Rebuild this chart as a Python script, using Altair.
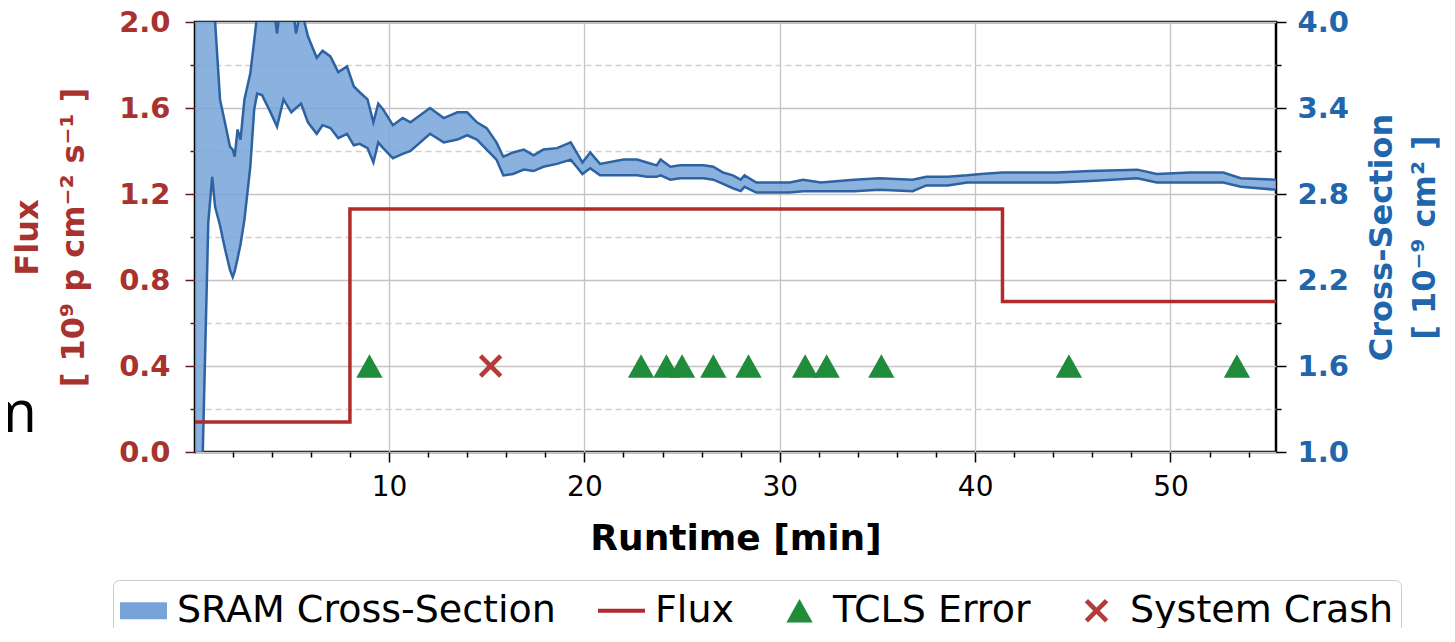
import altair as alt
import pandas as pd

# ---------------- data ----------------
band_t = [0.07, 0.30, 0.45, 0.75, 0.95, 1.10, 1.35, 1.60, 1.86, 2.00, 2.10, 2.25, 2.40, 2.60,
          2.90, 3.10, 3.25, 3.50, 3.90, 4.27, 4.60, 5.00, 5.24, 5.50, 5.85, 6.30, 6.60, 7.00,
          7.40, 7.85, 8.20, 8.50, 8.90, 9.20, 9.45, 9.70, 10.2, 10.7, 11.1, 12.1, 12.8, 13.5,
          14.0, 14.5, 15.0, 15.5, 15.85, 16.35, 16.9, 17.4, 17.9, 18.6, 19.3, 19.6, 19.9, 20.3,
          20.8, 22.0, 22.7, 23.2, 23.7, 23.9, 24.4, 24.9, 26.1, 26.6, 27.1, 27.6, 28.0, 28.2,
          28.8, 29.5, 30.5, 31.2, 32.1, 33.8, 35.1, 36.8, 37.5, 38.6, 39.6, 40.3, 41.4, 44.2,
          45.9, 48.3, 49.3, 51.0, 52.7, 53.6, 55.4]
band_lo = [0.80, 0.80, 0.90, 2.60, 2.92, 2.71, 2.58, 2.42, 2.27, 2.22, 2.26, 2.35, 2.45, 2.62,
           2.99, 3.39, 3.50, 3.49, 3.38, 3.27, 3.46, 3.37, 3.40, 3.43, 3.30, 3.22, 3.28, 3.26,
           3.19, 3.22, 3.14, 3.15, 3.12, 3.02, 3.16, 3.12, 3.05, 3.08, 3.10, 3.22, 3.16, 3.18,
           3.21, 3.18, 3.11, 3.04, 2.93, 2.94, 2.97, 2.96, 2.99, 3.01, 3.04, 2.99, 2.94, 2.98,
           2.93, 2.93, 2.93, 2.92, 2.92, 2.93, 2.90, 2.91, 2.91, 2.90, 2.87, 2.84, 2.82, 2.85,
           2.81, 2.81, 2.81, 2.82, 2.82, 2.82, 2.83, 2.82, 2.86, 2.86, 2.88, 2.88, 2.88, 2.88,
           2.89, 2.91, 2.88, 2.88, 2.88, 2.85, 2.83]
band_hi = [4.30, 4.30, 4.30, 4.30, 4.30, 4.00, 3.46, 3.30, 3.13, 3.11, 3.06, 3.25, 3.18, 3.46,
           3.64, 3.87, 4.05, 4.30, 4.30, 3.92, 4.30, 4.20, 3.92, 4.10, 3.90, 3.75, 3.80, 3.76,
           3.65, 3.69, 3.55, 3.51, 3.46, 3.30, 3.43, 3.39, 3.28, 3.33, 3.30, 3.40, 3.33, 3.37,
           3.37, 3.30, 3.26, 3.16, 3.06, 3.09, 3.11, 3.07, 3.11, 3.12, 3.16, 3.09, 3.02, 3.09,
           3.01, 3.04, 3.04, 3.02, 3.00, 3.04, 2.99, 3.00, 3.00, 2.99, 2.95, 2.93, 2.90, 2.93,
           2.88, 2.88, 2.88, 2.90, 2.88, 2.90, 2.91, 2.90, 2.92, 2.92, 2.93, 2.94, 2.95, 2.95,
           2.96, 2.97, 2.94, 2.95, 2.95, 2.91, 2.90]

flux_t = [0.07, 8.0, 41.4, 55.4]
flux_v = [0.14, 1.13, 0.70, 0.70]

tcls_t = [9.0, 22.9, 24.2, 25.0, 26.6, 28.4, 31.3, 32.4, 35.2, 44.8, 53.4]
crash_t = [15.2]
event_level = 0.4

series_names = ["SRAM Cross-Section", "Flux", "TCLS Error", "System Crash"]
series_colors = ["#77a3d8", "#b22b2b", "#1f8b3b", "#b73a3a"]

x_ticks = [2, 4, 6, 8, 10, 12, 14, 16, 18, 20, 22, 24, 26, 28, 30, 32, 34, 36, 38, 40,
           42, 44, 46, 48, 50, 52, 54]
flux_ticks = [0.0, 0.1, 0.2, 0.3, 0.4, 0.5, 0.6, 0.7, 0.8, 0.9, 1.0, 1.1, 1.2, 1.3, 1.4,
              1.5, 1.6, 1.7, 1.8, 1.9, 2.0]
cs_ticks = [1.0, 1.15, 1.3, 1.45, 1.6, 1.75, 1.9, 2.05, 2.2, 2.35, 2.5, 2.65, 2.8, 2.95,
            3.1, 3.25, 3.4, 3.55, 3.7, 3.85, 4.0]
stray_text = ["m"]

# ---------------- styling ----------------
RED = "#a8322d"
BLUE = "#2166ac"
EDGE = "#2d62a3"
FONT = "DejaVu Sans"

band_df = pd.DataFrame({"t": band_t, "lo": band_lo, "hi": band_hi})
flux_df = pd.DataFrame({"t": flux_t, "v": flux_v})
ev_df = pd.DataFrame({
    "t": tcls_t + crash_t,
    "v": [event_level] * (len(tcls_t) + len(crash_t)),
    "series": [series_names[2]] * len(tcls_t) + [series_names[3]] * len(crash_t),
})
stray_df = pd.DataFrame({"s": stray_text})

# symbol paths (unit box [-1, 1] = 47 px handle width)
shape_paths = [
    "M-1,-0.36L1,-0.36L1,0.36L-1,0.36Z",
    "M-1,-0.08L1,-0.08L1,0.08L-1,0.08Z",
    "M0,-0.5L0.56,0.5L-0.56,0.5Z",
    "M-0.5,-0.36L-0.36,-0.5L0,-0.14L0.36,-0.5L0.5,-0.36L0.14,0L0.5,0.36L0.36,0.5"
    "L0,0.14L-0.36,0.5L-0.5,0.36L-0.14,0Z",
]

x_major = "datum.value % 10 === 0"
flux_major = "abs(datum.value / 0.4 - round(datum.value / 0.4)) < 0.001"
cs_major = "abs((datum.value - 1) / 0.6 - round((datum.value - 1) / 0.6)) < 0.001"


def cond(test, a, b):
    return {"condition": {"test": test, "value": a}, "value": b}


x_scale = alt.Scale(domain=[0.07, 55.4], nice=False, zero=False)

x_axis = alt.Axis(
    values=x_ticks, title="Runtime [min]", format="d",
    labelExpr=f"{x_major} ? datum.label : ''", labelOverlap=False,
    labelFont=FONT, labelFontSize=28, labelColor="black", labelPadding=11,
    tickColor="black", tickWidth=1.5, tickSize=cond(x_major, 10, 5),
    grid=True, gridColor="#c4c4c4", gridWidth=1.3, gridOpacity=cond(x_major, 1, 0),
    domain=False,
    titleFont=FONT, titleFontSize=36, titleFontWeight="bold", titleColor="black",
    titlePadding=20,
)

flux_axis = alt.Axis(
    values=flux_ticks, orient="left", title=["Flux", "[ 10⁹ p cm⁻² s⁻¹ ]"], format=".1f",
    labelExpr=f"{flux_major} ? datum.label : ''", labelOverlap=False,
    labelFont=FONT, labelFontSize=29, labelFontWeight="bold", labelColor=RED, labelPadding=15,
    tickColor="#5e1c1c", tickWidth=1.5, tickSize=cond(flux_major, 10, 5),
    grid=True, gridColor=cond(flux_major, "#c4c4c4", "#d0d0d0"),
    gridDash=cond(flux_major, [], [6, 4]), gridWidth=1.3,
    domain=False,
    titleFont=FONT, titleFontSize=32, titleFontWeight="bold", titleColor=RED,
    titleAngle=270, titleLineHeight=46, titleX=-151,
)

cs_axis = alt.Axis(
    values=cs_ticks, orient="right", title=["Cross-Section", "[ 10⁻⁹ cm² ]"], format=".1f",
    labelExpr=f"{cs_major} ? datum.label : ''", labelOverlap=False,
    labelFont=FONT, labelFontSize=29, labelFontWeight="bold", labelColor=BLUE, labelPadding=11,
    tickColor="black", tickWidth=1.5, tickSize=cond(cs_major, 10, 5),
    grid=False, domain=False,
    titleFont=FONT, titleFontSize=32, titleFontWeight="bold", titleColor=BLUE,
    titleAngle=270, titleBaseline="top", titleLineHeight=43, titleX=90,
)

color_scale = alt.Scale(domain=series_names, range=series_colors)
shape_scale = alt.Scale(domain=series_names, range=shape_paths)

legend = alt.Legend(
    orient="none", legendX=-82, legendY=558, direction="horizontal", title=None,
    labelFont=FONT, labelFontSize=38, labelColor="black", labelOffset=10,
    symbolSize=2209, symbolStrokeWidth=0, symbolOpacity=1,
    columnPadding=42, padding=7, strokeColor="#cccccc", fillColor="white",
    cornerRadius=6, labelLimit=600,
)

x_enc = alt.X("t:Q", scale=x_scale, axis=x_axis)

area = alt.Chart(band_df).mark_area(clip=True, opacity=0.85, color=series_colors[0]).encode(
    x=x_enc,
    y=alt.Y("lo:Q", scale=alt.Scale(domain=[1, 4], nice=False, zero=False), axis=cs_axis),
    y2="hi:Q",
)
lo_line = alt.Chart(band_df).mark_line(clip=True, color=EDGE, strokeWidth=2.5).encode(
    x=x_enc, y=alt.Y("lo:Q"))
hi_line = alt.Chart(band_df).mark_line(clip=True, color=EDGE, strokeWidth=2.5).encode(
    x=x_enc, y=alt.Y("hi:Q"))
right_layer = alt.layer(area, lo_line, hi_line)

flux_line = alt.Chart(flux_df).mark_line(
    interpolate="step-after", strokeWidth=3.5, color=series_colors[1]
).encode(
    x=x_enc,
    y=alt.Y("v:Q", scale=alt.Scale(domain=[0, 2], nice=False), axis=flux_axis),
)
events = alt.Chart(ev_df).mark_point(filled=True, opacity=1, size=2209).encode(
    x=x_enc,
    y=alt.Y("v:Q"),
    color=alt.Color("series:N", scale=color_scale, legend=legend),
    shape=alt.Shape("series:N", scale=shape_scale, legend=legend),
)
stray = alt.Chart(stray_df).mark_text(
    font="Open Sans", fontSize=58, align="right", baseline="alphabetic", color="black"
).encode(x=alt.value(-158), y=alt.value(410), text="s:N")

left_layer = alt.layer(flux_line, events, stray)

chart = alt.layer(right_layer, left_layer).resolve_scale(y="independent").properties(
    width=1081, height=430,
    autosize=alt.AutoSizeParams(type="none"),
    padding={"left": 187, "top": 14, "right": 170, "bottom": 176},
).configure_view(stroke="black", strokeWidth=2.5)

chart.save("out.html", embed_options={"renderer": "svg", "actions": False})
